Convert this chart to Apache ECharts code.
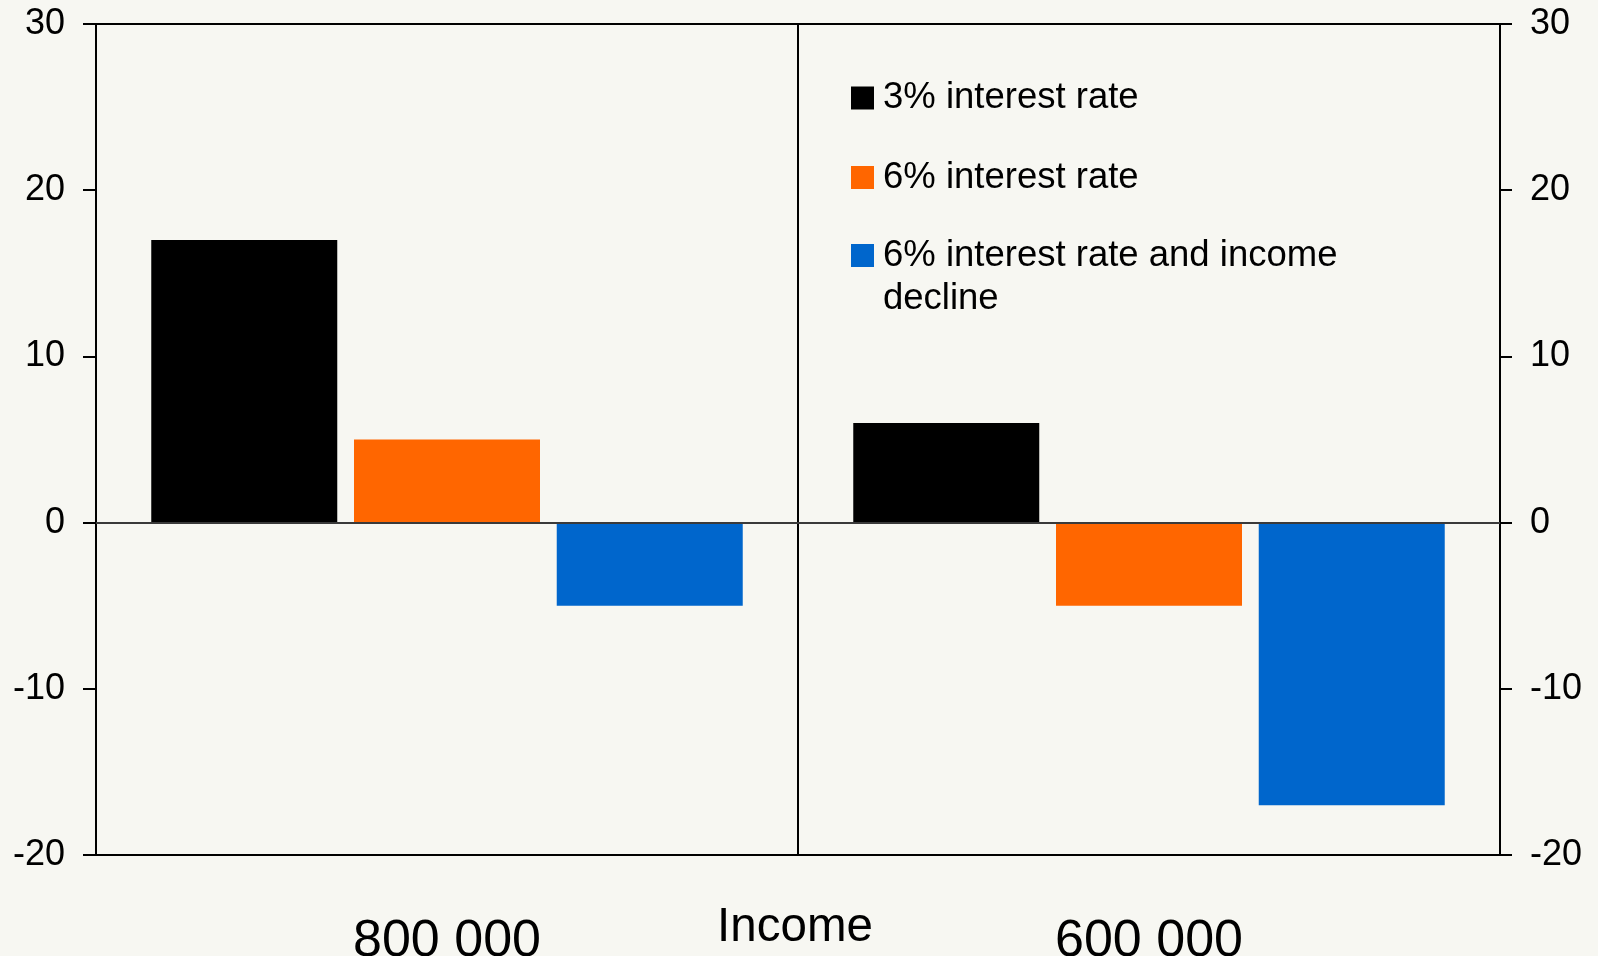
<!DOCTYPE html>
<html>
<head>
<meta charset="utf-8">
<script src="https://cdn.jsdelivr.net/npm/echarts@6/dist/echarts.min.js"></script>
<style>
html,body{margin:0;padding:0;background:#f7f7f2;}
#chart{width:1598px;height:956px;}
</style>
</head>
<body>
<div id="chart"></div>
<script>
const categories = ['800 000', '600 000'];
const seriesNames = ['3% interest rate', '6% interest rate', '6% interest rate and income decline'];
const rate3 = [17, 6];
const rate6 = [5, -5];
const rate6Decline = [-5, -17];
const yTicks = { min: -20, max: 30, interval: 10 };
const axisTitle = 'Income';

const FONT = '"Liberation Sans", Arial, sans-serif';
const chart = echarts.init(document.getElementById('chart'));

function yAxisDef(pos, tickLen, margin) {
  return {
    type: 'value', position: pos,
    min: yTicks.min, max: yTicks.max, interval: yTicks.interval,
    axisLine: { show: true, lineStyle: { color: '#000', width: 2 } },
    axisTick: { show: true, inside: false, length: tickLen, lineStyle: { color: '#000', width: 2 } },
    axisLabel: { color: '#000', fontSize: 36, fontFamily: FONT, margin: margin, padding: [10, 0, 0, 0] },
    splitLine: { show: false }
  };
}

const legendBase = {
  orient: 'vertical', left: 851, padding: 0,
  itemWidth: 23, itemHeight: 23, icon: 'rect',
  textStyle: { color: '#000', fontSize: 36.5, fontFamily: FONT, lineHeight: 43, padding: [4, 0, 0, 4] },
  selectedMode: false
};

chart.setOption({
  backgroundColor: '#f7f7f2',
  animation: false,
  grid: { left: 96, right: 98, top: 24, bottom: 101, containLabel: false, outerBoundsMode: 'none',
    show: true, borderColor: '#000', borderWidth: 2, backgroundColor: 'transparent' },
  legend: [
    Object.assign({}, legendBase, { top: 74.5, data: [seriesNames[0]] }),
    Object.assign({}, legendBase, { top: 154, data: [seriesNames[1]] }),
    Object.assign({}, legendBase, { top: 189, data: [seriesNames[2]],
      formatter: () => '\n6% interest rate and income\ndecline' })
  ],
  xAxis: {
    type: 'category', data: categories, position: 'bottom',
    axisLine: { show: true, onZero: false, lineStyle: { color: '#000', width: 2 } },
    axisTick: { show: false },
    splitLine: { show: true, lineStyle: { color: '#000', width: 2 } },
    axisLabel: { color: '#000', fontSize: 52, lineHeight: 52, fontFamily: FONT, margin: 61 },
    name: axisTitle, nameLocation: 'middle', nameGap: 49, nameMoveOverlap: false,
    nameTextStyle: { color: '#000', fontSize: 47.5, fontFamily: FONT, padding: [0, 6, 0, 0] }
  },
  yAxis: [yAxisDef('left', 13, 31), yAxisDef('right', 12, 30)],
  series: [
    { name: seriesNames[0], type: 'bar', data: rate3, barWidth: 186, barGap: '9%',
      itemStyle: { color: '#000000' },
      markLine: { silent: true, symbol: 'none', label: { show: false },
        lineStyle: { color: '#3a3a3a', width: 2, type: 'solid' }, data: [{ yAxis: 0 }], z: 10 } },
    { name: seriesNames[1], type: 'bar', data: rate6, barWidth: 186, barGap: '9%',
      itemStyle: { color: '#ff6600' } },
    { name: seriesNames[2], type: 'bar', data: rate6Decline, barWidth: 186, barGap: '9%',
      itemStyle: { color: '#0066cc' } }
  ]
});
</script>
</body>
</html>
